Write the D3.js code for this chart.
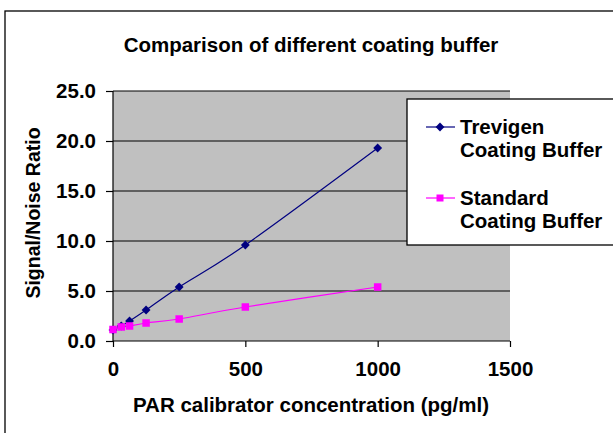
<!DOCTYPE html>
<html><head><meta charset="utf-8">
<script src="https://cdn.jsdelivr.net/npm/d3@7"></script>
<style>
html,body{margin:0;padding:0;background:#fff;}
svg text{font-family:"Liberation Sans",Arial,sans-serif;font-weight:bold;fill:#000;}
</style></head>
<body><svg id="c" width="613" height="433"></svg>
<script>
const concentrations = [0, 31.25, 62.5, 125, 250, 500, 1000];
const trevigen = [1.1, 1.5, 2.0, 3.1, 5.4, 9.6, 19.3];
const standard = [1.15, 1.4, 1.5, 1.8, 2.2, 3.4, 5.4];
const seriesNames = [["Trevigen", "Coating Buffer"], ["Standard", "Coating Buffer"]];
const xTicks = [0, 500, 1000, 1500];
const yTicks = [0, 5, 10, 15, 20, 25];
const title = "Comparison of different coating buffer";
const xTitle = "PAR calibrator concentration (pg/ml)";
const yTitle = "Signal/Noise Ratio";

const svg = d3.select("#c");
const L = 113, R = 510, T = 91, B = 341;
const x = d3.scaleLinear().domain([0, 1500]).range([L, R]);
const y = d3.scaleLinear().domain([0, 25]).range([B, T]);

// outer chart border
svg.append("rect").attr("x", 5).attr("y", 11).attr("width", 640).attr("height", 460)
  .attr("fill", "#fff").attr("stroke", "#000").attr("stroke-width", 1.3);

// plot area
svg.append("rect").attr("x", L).attr("y", T).attr("width", R - L).attr("height", B - T)
  .attr("fill", "#C0C0C0");

// gridlines
svg.append("g").selectAll("line").data(yTicks.filter(d => d > 0)).join("line")
  .attr("x1", L).attr("x2", R).attr("y1", d => y(d)).attr("y2", d => y(d))
  .attr("stroke", "#000").attr("stroke-width", 1.2);

// axes
const yAxis = d3.axisLeft(y).tickValues(yTicks).tickFormat(d3.format(".1f")).tickSize(7).tickPadding(10);
const gy = svg.append("g").attr("transform", `translate(${L},0)`).call(yAxis);
const xAxis = d3.axisBottom(x).tickValues(xTicks).tickFormat(d3.format("d")).tickSize(6).tickPadding(14);
const gx = svg.append("g").attr("transform", `translate(0,${B})`).call(xAxis);
[gy, gx].forEach(g => {
  g.select(".domain").attr("stroke", "#000").attr("stroke-width", 1.2);
  g.selectAll(".tick line").attr("stroke", "#000").attr("stroke-width", 1.2);
  g.selectAll(".tick text").style("font-size", "20.5px").style("font-family", '"Liberation Sans",Arial,sans-serif').style("font-weight", "bold").attr("fill", "#000");
});
gx.select(".domain").attr("d", `M${L},0H${R}`);
gy.select(".domain").attr("d", `M0,${B}V${T}`);

// series
const line = d3.line().x(d => x(d[0])).y(d => y(d[1])).curve(d3.curveCardinal.tension(0));
const tData = concentrations.map((c, i) => [c, trevigen[i]]);
const sData = concentrations.map((c, i) => [c, standard[i]]);
const navy = "#000080", pink = "#FF00FF";
svg.append("path").datum(tData).attr("d", line).attr("fill", "none").attr("stroke", navy).attr("stroke-width", 1.2);
svg.append("path").datum(sData).attr("d", line).attr("fill", "none").attr("stroke", pink).attr("stroke-width", 1.2);
const diamond = d3.symbol().type(d3.symbolDiamond2).size(50);
svg.append("g").selectAll("path").data(tData).join("path")
  .attr("d", diamond).attr("transform", d => `translate(${x(d[0])},${y(d[1])})`).attr("fill", navy);
svg.append("g").selectAll("rect").data(sData).join("rect")
  .attr("x", d => x(d[0]) - 3.75).attr("y", d => y(d[1]) - 3.75).attr("width", 7.5).attr("height", 7.5).attr("fill", pink);

// titles
svg.append("text").attr("x", 311).attr("y", 52).attr("text-anchor", "middle").style("font-size", "20.5px").text(title);
svg.append("text").attr("x", 311).attr("y", 412).attr("text-anchor", "middle").style("font-size", "20.5px").text(xTitle);
svg.append("text").attr("transform", "translate(40,213) rotate(-90)").attr("text-anchor", "middle").style("font-size", "19.5px").text(yTitle);

// legend
const lg = svg.append("g");
lg.append("rect").attr("x", 407).attr("y", 99).attr("width", 230).attr("height", 146)
  .attr("fill", "#fff").attr("stroke", "#000").attr("stroke-width", 1.3);
const ly = [127, 198];
seriesNames.forEach((nm, i) => {
  const col = i === 0 ? navy : pink;
  lg.append("line").attr("x1", 426).attr("x2", 455).attr("y1", ly[i]).attr("y2", ly[i]).attr("stroke", col).attr("stroke-width", 1.2);
  if (i === 0) lg.append("path").attr("d", diamond).attr("transform", `translate(440,${ly[i]})`).attr("fill", col);
  else lg.append("rect").attr("x", 436.5).attr("y", ly[i] - 3.5).attr("width", 7).attr("height", 7).attr("fill", col);
  const t = lg.append("text").attr("x", 460).attr("y", ly[i] + 7).style("font-size", "20.5px");
  t.append("tspan").attr("x", 460).text(nm[0]);
  t.append("tspan").attr("x", 460).attr("dy", 22.5).text(nm[1]);
});
</script></body></html>
